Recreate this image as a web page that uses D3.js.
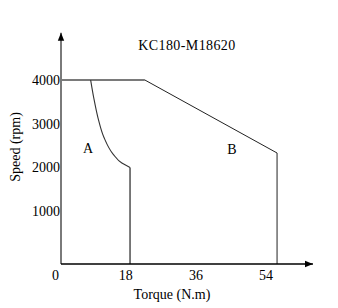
<!DOCTYPE html>
<html>
<head>
<meta charset="utf-8">
<script src="https://cdn.jsdelivr.net/npm/d3@7"></script>
<style>
	body { margin: 0; background: #fff; }
	svg text { font-family: "Liberation Serif", "DejaVu Serif", serif; fill: #000; }
</style>
</head>
<body>
<svg id="chart" width="338" height="308"></svg>
<script>
	// values
	const title = "KC180-M18620";
	const torqueTicks = [0, 18, 36, 54];
	const speedTicks = [1000, 2000, 3000, 4000];
	const speedFloor = -210;   // where the torque axis sits
	const speedTop = 5080;     // arrow tip of speed axis
	const torqueEnd = 64.6;    // arrow tip of torque axis

	// curve A: [torque, speed]
	const curveA = [[7.6, 4000], [8.4, 3590], [9.5, 3130], [11.0, 2690], [13.4, 2300], [15.6, 2100], [17.7, 2000]];
	const dropA = [[17.7, 2000], [17.7, speedFloor]];
	// curve B
	const curveB = [[0, 4000], [21.5, 4000], [55.4, 2330], [55.4, speedFloor]];

	const serif = "'Liberation Serif', 'DejaVu Serif', serif";

	let svg = d3.select("#chart");

	let x = d3.scaleLinear().domain([0, 64]).range([61, 310.6]);
	let y = d3.scaleLinear().domain([speedFloor, 4000]).range([264, 80]);

	let line = d3.line().x(d => x(d[0])).y(d => y(d[1]));

	svg.append("defs").append("marker")
		.attr("id", "arrow").attr("viewBox", "0 0 10 10")
		.attr("refX", 10).attr("refY", 5)
		.attr("markerWidth", 8).attr("markerHeight", 8)
		.attr("markerUnits", "userSpaceOnUse")
		.attr("orient", "auto")
		.append("path").attr("d", "M0,1L10,5L0,9Z").attr("fill", "#000");

	// B envelope (thick grey top part along 4000)
	svg.append("path").attr("d", line(curveB.slice(0, 2)))
		.attr("fill", "none").attr("stroke", "#7a7a7a").attr("stroke-width", 2);
	svg.append("path").attr("d", line(curveB.slice(1)))
		.attr("fill", "none").attr("stroke", "#222").attr("stroke-width", 1);

	svg.append("path").attr("d", d3.line().x(d => x(d[0])).y(d => y(d[1])).curve(d3.curveMonotoneY)(curveA))
		.attr("fill", "none").attr("stroke", "#333").attr("stroke-width", 1.1);
	svg.append("path").attr("d", line(dropA))
		.attr("fill", "none").attr("stroke", "#222").attr("stroke-width", 1.2);

	// axes lines
	svg.append("line")
		.attr("x1", x(0)).attr("y1", y(speedFloor)).attr("x2", x(0)).attr("y2", y(speedTop))
		.attr("stroke", "#7a7a7a").attr("stroke-width", 2).attr("marker-end", "url(#arrow)");
	svg.append("line")
		.attr("x1", x(0)).attr("y1", y(speedFloor)).attr("x2", x(torqueEnd)).attr("y2", y(speedFloor))
		.attr("stroke", "#000").attr("stroke-width", 1.5).attr("marker-end", "url(#arrow)");

	let yAxis = svg.append("g").attr("transform", "translate(" + x(0) + ",0)")
		.call(d3.axisLeft(y).tickValues(speedTicks).tickSize(0).tickPadding(1).tickFormat(d3.format("d")));
	yAxis.select(".domain").remove();
	yAxis.attr("font-family", serif).attr("font-size", 14);

	let xAxis = svg.append("g").attr("transform", "translate(0," + y(speedFloor) + ")")
		.call(d3.axisBottom(x).tickValues(torqueTicks).tickSize(0).tickPadding(6));
	xAxis.select(".domain").remove();
	xAxis.attr("font-family", serif).attr("font-size", 14);
	xAxis.selectAll("text").attr("dx", -6);

	let labels = svg.append("g").attr("font-family", serif).attr("font-size", 14);

	labels.append("text").attr("x", 187).attr("y", 50).attr("text-anchor", "middle")
		.attr("letter-spacing", 0.4).text(title);

	labels.append("text").attr("x", 88).attr("y", 153).attr("text-anchor", "middle").text("A");
	labels.append("text").attr("x", 232).attr("y", 154).attr("text-anchor", "middle").text("B");

	labels.append("text").attr("x", 172).attr("y", 299).attr("text-anchor", "middle").text("Torque (N.m)");
	labels.append("text").attr("transform", "translate(20,147) rotate(-90)").attr("text-anchor", "middle")
		.text("Speed (rpm)");
</script>
</body>
</html>
